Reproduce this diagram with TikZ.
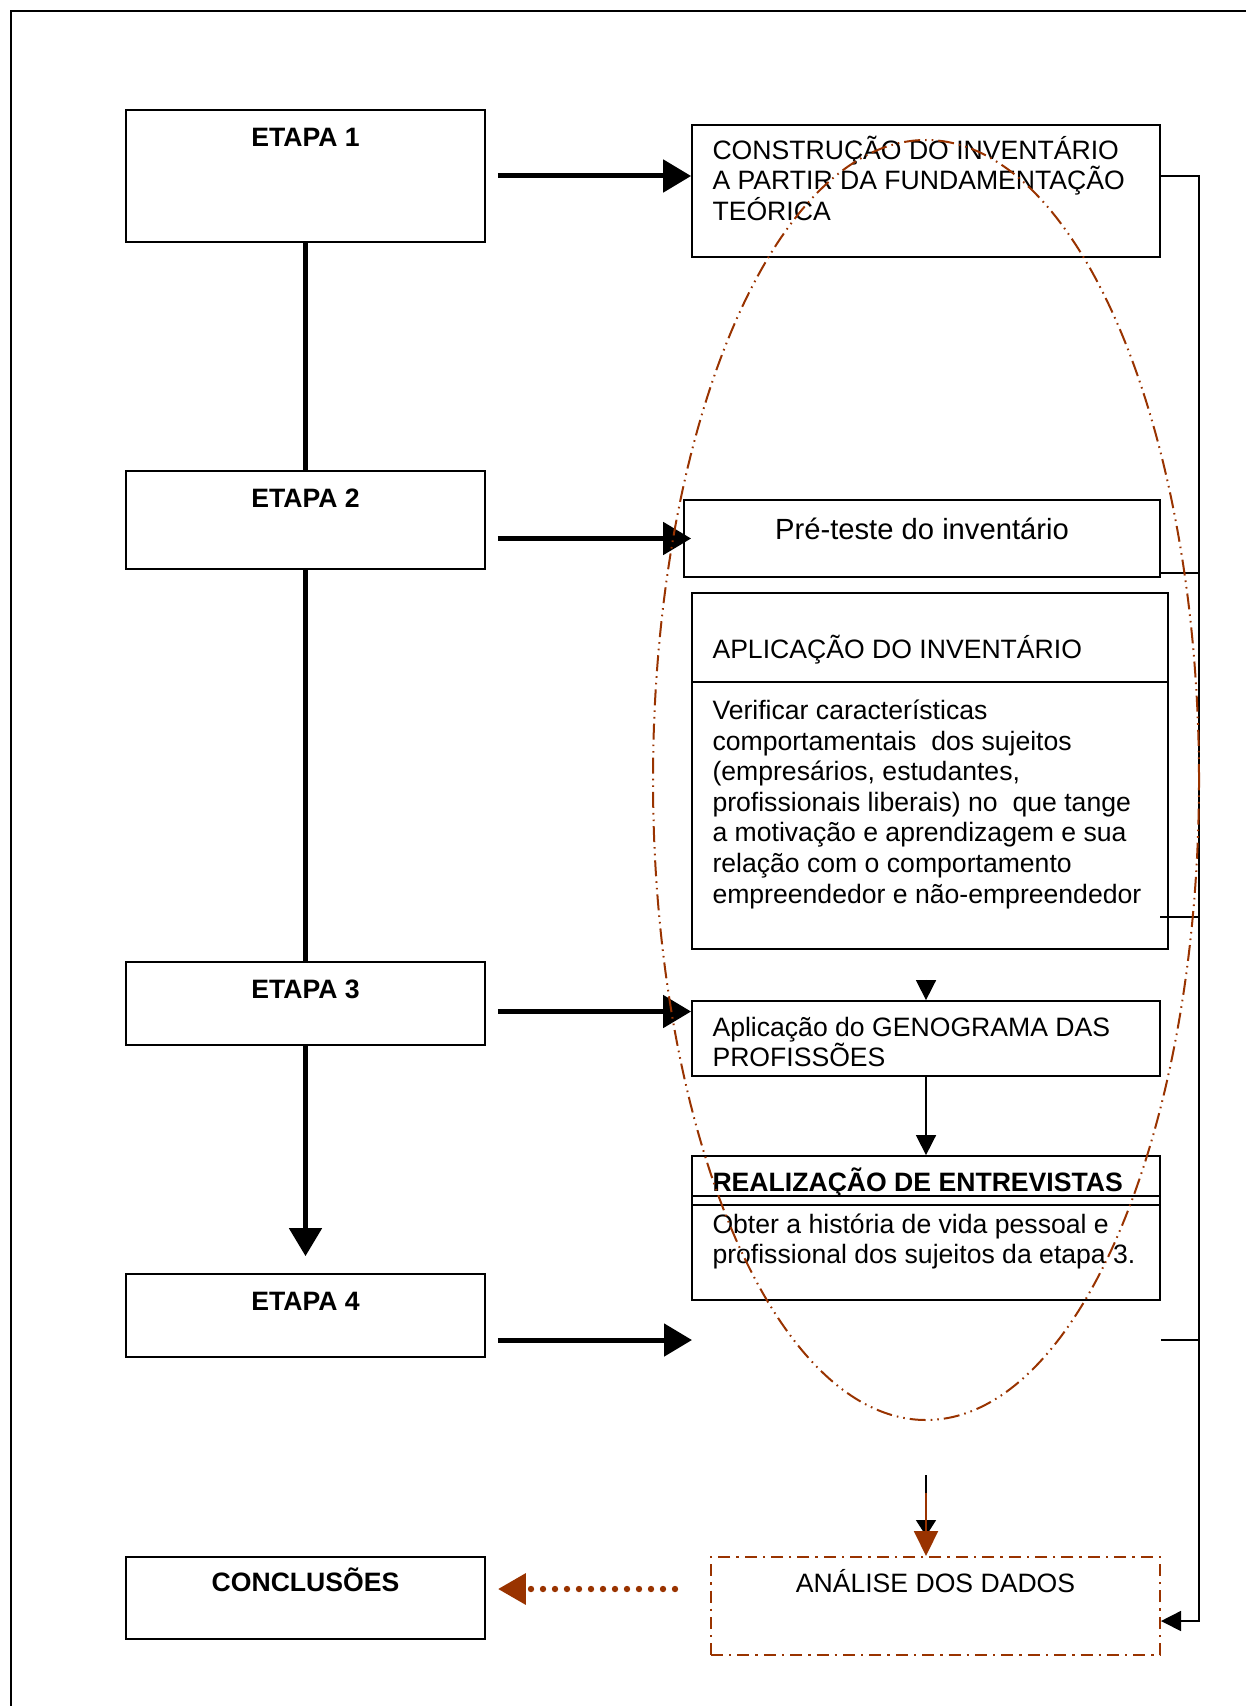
\documentclass[tikz,border=0pt]{standalone}
\usepackage{fontspec}
\setmainfont{Liberation Sans}
\usetikzlibrary{arrows.meta,positioning}
\definecolor{rust}{RGB}{153,51,0}

\begin{document}
\begin{tikzpicture}[
    x=0.5pt,y=-0.5pt,
    font=\fontsize{13.3}{15.3}\selectfont,
    etapa/.style={rectangle,draw,line width=0.9pt,minimum width=179.5pt,inner sep=0pt},
    box/.style={rectangle,draw,line width=0.9pt,inner sep=0pt},
    txt/.style={inner sep=0pt,align=left},
    bigarrow/.style={-{Triangle[length=14pt,width=16pt]},line width=2.5pt},
    stem/.style={line width=2.5pt},
    link/.style={line width=0.8pt},
    headed/.style={-{Triangle[length=10pt,width=10pt]}},
    scopeoval/.style={draw=rust,line width=1pt,dash pattern=on 8pt off 2.5pt on 0.8pt off 2.5pt on 0.8pt off 2.5pt},
    dotarrow/.style={draw=rust,line width=3.2pt,line cap=round,dash pattern=on 0pt off 6pt,
        -{Triangle[length=14pt,width=15pt,fill=rust,color=rust]}}
]
    \useasboundingbox (0,0) rectangle (1246,1706);
    % page frame
    \draw[line width=1pt] (11,1706) -- (11,11) -- (1246,11);

    % Left column: stages
    \node[etapa,minimum height=66pt] (e1) at (305.5,176) {};
    \node[txt,anchor=base] (e1t) at ([yshift=-18.5pt]e1.north) {\textbf{ETAPA 1}};
    \node[etapa,minimum height=49pt] (e2) at (305.5,520) {};
    \node[txt,anchor=base] (e2t) at ([yshift=-18.5pt]e2.north) {\textbf{ETAPA 2}};
    \node[etapa,minimum height=41.5pt] (e3) at (305.5,1003.5) {};
    \node[txt,anchor=base] (e3t) at ([yshift=-18.5pt]e3.north) {\textbf{ETAPA 3}};
    \node[etapa,minimum height=41.5pt] (e4) at (305.5,1315.5) {};
    \node[txt,anchor=base] (e4t) at ([yshift=-18.5pt]e4.north) {\textbf{ETAPA 4}};
    \node[etapa,minimum height=41pt] (concl) at (305.5,1598) {};
    \node[txt,anchor=base] (conclt) at ([yshift=-17.5pt]concl.north) {\textbf{CONCLUSÕES}};

    \draw[stem] (e1) -- (e2);
    \draw[stem] (e2) -- (e3);
    \draw[bigarrow,shorten >=8.5pt] (e3) -- (e4);

    % Right column: activities
    \node[box,minimum width=234pt,minimum height=66pt] (constr) at (926,191) {};
    \node[txt,anchor=base west] (constrt) at ([xshift=10.5pt,yshift=-48.1pt]constr.north west)
        {CONSTRUÇÃO DO INVENTÁRIO\\A PARTIR DA FUNDAMENTAÇÃO\\TEÓRICA};

    \node[box,minimum width=238pt,minimum height=38.5pt] (pre) at (922,538.5) {};
    \node[txt,anchor=base,font=\fontsize{14.6}{16.8}\selectfont] (pret) at ([yshift=-20pt]pre.north)
        {Pré-teste do inventário};

    \node[box,minimum width=238pt,minimum height=178pt] (aplic) at (930,771) {};
    \draw[line width=0.9pt] ([yshift=-45pt]aplic.north west) -- ([yshift=-45pt]aplic.north east);
    \node[txt,anchor=base west] (aplict) at ([xshift=10.5pt,yshift=-33pt]aplic.north west)
        {APLICAÇÃO DO INVENTÁRIO};
    \node[txt,anchor=base west] (verif) at ([xshift=10.5pt,yshift=-155.5pt]aplic.north west)
        {Verificar características\\comportamentais\ \ dos sujeitos\\(empresários, estudantes,\\profissionais liberais) no\ \ que tange\\a motivação e aprendizagem e sua\\relação com o comportamento\\empreendedor e não-empreendedor};

    \node[box,minimum width=234pt,minimum height=37.5pt] (geno) at (926,1038.5) {};
    \node[txt,anchor=base west] (genot) at ([xshift=10.5pt,yshift=-33.3pt]geno.north west)
        {Aplicação do GENOGRAMA DAS\\PROFISSÕES};

    \node[box,minimum width=234pt,minimum height=72pt] (real) at (926,1228) {};
    \draw[line width=0.9pt] ([yshift=-20.5pt]real.north west) -- ([yshift=-20.5pt]real.north east);
    \draw[line width=0.9pt] ([yshift=-25pt]real.north west) -- ([yshift=-25pt]real.north east);
    \node[txt,anchor=base west] (realt) at ([xshift=10.5pt,yshift=-18pt]real.north west)
        {\textbf{REALIZAÇÃO DE ENTREVISTAS}};
    \node[txt,anchor=base west] (obter) at ([xshift=10.5pt,yshift=-54.3pt]real.north west)
        {Obter a história de vida pessoal e\\profissional dos sujeitos da etapa 3.};

    \node[box,draw=rust,line width=1pt,dash pattern=on 6pt off 3pt on 1.2pt off 3pt,
        minimum width=224.5pt,minimum height=49pt] (anal) at (935.5,1606) {};
    \node[txt,anchor=base] (analt) at ([yshift=-18pt]anal.north) {ANÁLISE DOS DADOS};

    % Stage arrows
    \draw[bigarrow,shorten <=6pt] (e1.east) -- (e1.east -| constr.west);
    \draw[bigarrow,shorten <=6pt] (e2.east |- pre) -- (pre -| constr.west);
    \draw[bigarrow,shorten <=6pt] ([yshift=-4pt]e3.east) -- ([yshift=-4pt]e3.east -| geno.west);
    \coordinate (gap) at (692,1340);
    \draw[bigarrow,shorten <=6pt] (e4.east |- gap) -- (gap);

    % Links between activities
    \draw[link,headed,shorten <=15pt] (aplic.south -| geno) -- (geno.north);
    \draw[link,headed] (geno) -- (real);

    % Rail on the right
    \coordinate (railtop) at (1199,176);
    \coordinate (railbot) at (1199,1621);
    \coordinate (tick) at (1160,917);
    \draw[link,headed] (railtop -| constr.east) -- (railtop) -- (railbot) -- (railbot -| anal.east);
    \draw[link] ([yshift=2.5pt]pre.south east) -- ([yshift=2.5pt]pre.south east -| railtop);
    \draw[link] (tick) -- (tick -| railtop);
    \draw[link] (gap -| real.east) -- (gap -| railtop);

    % Feed into the analysis
    \coordinate (feed) at (926,1475);
    \draw[link,-{Triangle[length=8pt,width=10pt]},shorten >=10pt] (feed) -- (feed |- anal.north);
    \draw[draw=rust,line width=1pt,-{Triangle[length=12.5pt,width=12pt,color=rust,fill=rust]}]
        ([yshift=-9pt]feed) -- (feed |- anal.north);

    % Analysis to conclusions
    \coordinate (dots) at (675,1589);
    \draw[dotarrow,shorten >=6pt] (dots) -- (dots -| concl.east);

    % Oval round the data collection
    \draw[scopeoval] (926,780) ellipse [x radius=136.5pt, y radius=320pt];
\end{tikzpicture}
\end{document}
